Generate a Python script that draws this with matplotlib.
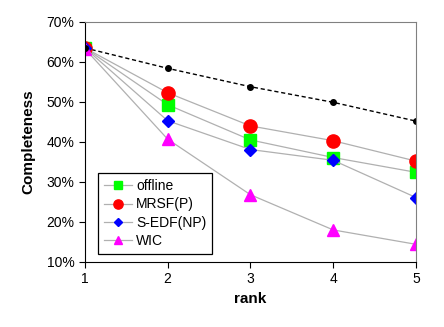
import matplotlib
matplotlib.use('Agg')
import matplotlib.pyplot as plt
from matplotlib.ticker import FuncFormatter

plt.rcParams['font.family'] = ['Liberation Sans', 'DejaVu Sans']

rank = [1, 2, 3, 4, 5]
upper = [63.5, 58.4, 53.8, 49.9, 45.2]
offline = [63.5, 49.3, 40.5, 36.1, 32.4]
mrsf = [63.5, 52.3, 44.0, 40.3, 35.2]
sedf = [63.5, 45.3, 38.1, 35.4, 26.1]
wic = [63.3, 40.7, 26.8, 18.0, 14.4]

fig = plt.figure(figsize=(4.44, 3.27), dpi=100)
ax = fig.add_axes([0.191, 0.199, 0.746, 0.734])

ax.plot(rank, upper, 'k--', lw=1, marker='o', ms=4, dashes=(3, 2))
ax.plot(rank, offline, '-', color='#b0b0b0', lw=0.9, marker='s', ms=8,
        mfc='#00ff00', mec='#00ff00', label='offline')
ax.plot(rank, mrsf, '-', color='#b0b0b0', lw=0.9, marker='o', ms=9.5,
        mfc='#ff0000', mec='#ff0000', label='MRSF(P)')
ax.plot(rank, sedf, '-', color='#b0b0b0', lw=0.9, marker='D', ms=6.5,
        mfc='#0000ff', mec='#0000ff', label='S-EDF(NP)')
ax.plot(rank, wic, '-', color='#b0b0b0', lw=0.9, marker='^', ms=8.5,
        mfc='#ff00ff', mec='#ff00ff', label='WIC')
# black point on top at rank 1
ax.plot(rank[:1], upper[:1], 'ko', ms=4)

ax.set_xlim(1, 5)
ax.set_ylim(10, 70)
ax.set_xticks(rank)
ax.set_yticks(range(10, 71, 10))
ax.yaxis.set_major_formatter(FuncFormatter(lambda v, p: '%d%%' % v))
ax.tick_params(direction='out', length=4, labelsize=10, colors='black')
ax.spines['top'].set_color('#808080')
ax.spines['right'].set_color('#808080')
ax.set_xlabel('rank', fontsize=11, fontweight='bold')
ax.set_ylabel('Completeness', fontsize=11, fontweight='bold', labelpad=8)

leg = ax.legend(loc='lower left', bbox_to_anchor=(0.039, 0.033), borderaxespad=0,
                fancybox=False, edgecolor='black', framealpha=1, fontsize=10,
                handlelength=2.0, markerscale=0.7, borderpad=0.45,
                labelspacing=0.3, handletextpad=0.3)
leg.get_frame().set_linewidth(0.9)

fig.savefig('out.png', dpi=100)
